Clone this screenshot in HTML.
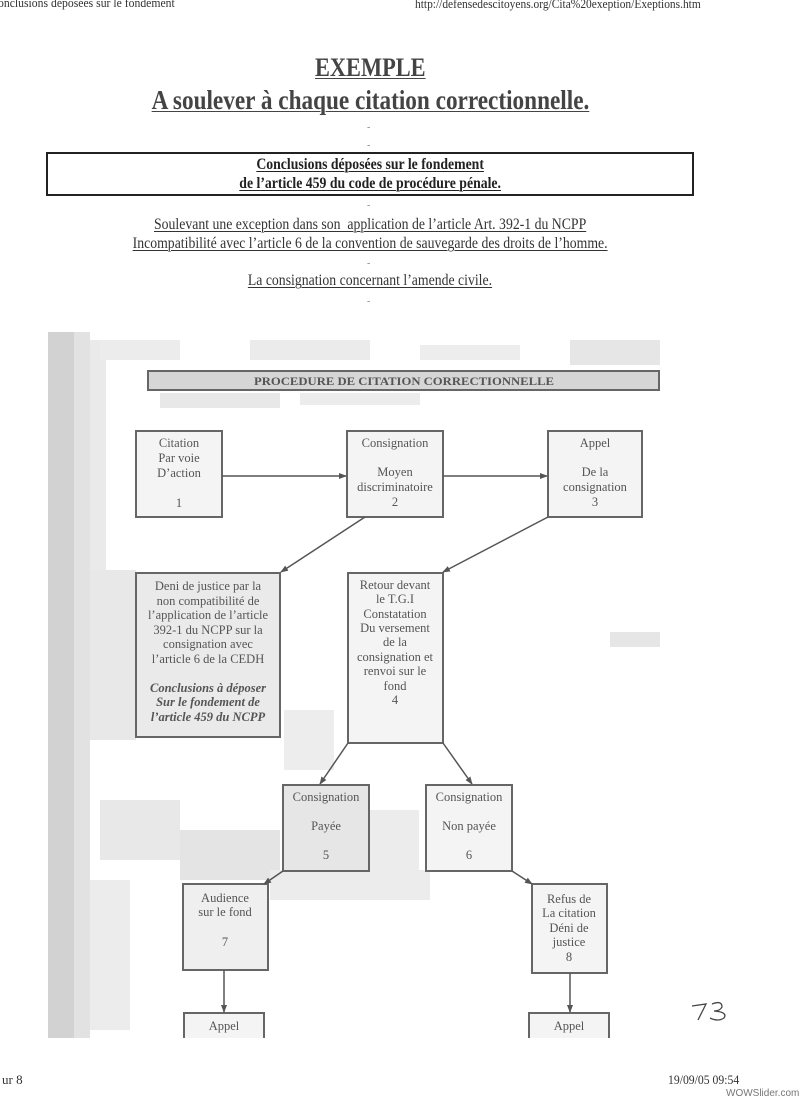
<!DOCTYPE html>
<html><head><meta charset="utf-8"><style>
html,body{margin:0;padding:0;background:#fff;}
body{width:800px;height:1100px;position:relative;overflow:hidden;font-family:"Liberation Serif",serif;color:#222;}
.a{position:absolute;white-space:nowrap;}
.c{position:absolute;left:0;width:740px;text-align:center;white-space:nowrap;}
.c span{display:inline-block;transform:scaleX(0.86);transform-origin:center;}
u{text-decoration-thickness:1px;text-underline-offset:2px;}
</style></head><body>
<div class="a" style="left:-2px;top:-5px;font-size:13px;color:#333;transform:scaleX(0.9);transform-origin:left;">onclusions déposées sur le fondement</div>
<div class="a" style="left:415px;top:-4px;font-size:13px;color:#333;transform:scaleX(0.88);transform-origin:left;">http://defensedescitoyens.org/Cita%20exeption/Exeptions.htm</div>

<div class="c" style="top:53px;font-size:26px;font-weight:bold;color:#444;"><span><u>EXEMPLE</u></span></div>
<div class="c" style="top:85px;font-size:27px;font-weight:bold;color:#444;"><span><u>A soulever à chaque citation correctionnelle.</u></span></div>
<div class="a" style="left:367px;top:122px;font-size:10px;color:#888;">-</div>
<div class="a" style="left:367px;top:140px;font-size:10px;color:#888;">-</div>
<div class="a" style="left:46px;top:152px;width:644px;height:40px;border:2px solid #222;"></div>
<div class="c" style="top:155px;font-size:16px;font-weight:bold;line-height:19px;color:#222;"><span><u>Conclusions déposées sur le fondement</u><br><u>de l’article 459 du code de procédure pénale.</u></span></div>
<div class="a" style="left:367px;top:200px;font-size:10px;color:#888;">-</div>
<div class="c" style="top:215px;font-size:16px;line-height:19px;color:#333;"><span><u>Soulevant une exception dans son&nbsp; application de l’article Art. 392-1 du NCPP</u><br><u>Incompatibilité avec l’article 6 de la convention de sauvegarde des droits de l’homme.</u></span></div>
<div class="a" style="left:367px;top:258px;font-size:10px;color:#888;">-</div>
<div class="c" style="top:272px;font-size:16px;color:#333;"><span><u>La consignation concernant l’amende civile.</u></span></div>
<div class="a" style="left:367px;top:296px;font-size:10px;color:#888;">-</div>

<svg class="a" style="left:0;top:0" width="800" height="1100" xmlns="http://www.w3.org/2000/svg">
<defs><marker id="ar" markerWidth="8" markerHeight="8" refX="7" refY="4" orient="auto" markerUnits="userSpaceOnUse"><path d="M0,1 L8,4 L0,7 z" fill="#555"/></marker></defs>
<g>
<rect x="48" y="332" width="26" height="706" fill="#d2d2d2"/>
<rect x="74" y="332" width="16" height="706" fill="#e2e2e2"/>
<rect x="90" y="340" width="16" height="400" fill="#eaeaea"/>
<rect x="100" y="340" width="80" height="20" fill="#ececec"/>
<rect x="250" y="340" width="120" height="20" fill="#ebebeb"/>
<rect x="420" y="345" width="100" height="15" fill="#ededed"/>
<rect x="570" y="340" width="90" height="25" fill="#e6e6e6"/>
<rect x="160" y="393" width="120" height="15" fill="#e8e8e8"/>
<rect x="300" y="393" width="120" height="12" fill="#ececec"/>
<rect x="90" y="570" width="46" height="170" fill="#e8e8e8"/>
<rect x="100" y="800" width="80" height="60" fill="#e8e8e8"/>
<rect x="180" y="830" width="100" height="50" fill="#e4e4e4"/>
<rect x="369" y="810" width="50" height="60" fill="#ececec"/>
<rect x="270" y="870" width="160" height="30" fill="#ececec"/>
<rect x="90" y="880" width="40" height="150" fill="#ececec"/>
<rect x="284" y="710" width="50" height="60" fill="#ededed"/>
<rect x="610" y="632" width="50" height="15" fill="#e6e6e6"/>
</g>
<g stroke="#666" stroke-width="2" fill="#f4f4f4">
<rect x="148" y="371" width="511" height="19" fill="#d6d6d6"/>
<rect x="136" y="431" width="86" height="86"/>
<rect x="347" y="431" width="96" height="86"/>
<rect x="548" y="431" width="94" height="86"/>
<rect x="136" y="573" width="144" height="164" fill="#eaeaea"/>
<rect x="348" y="573" width="95" height="170"/>
<rect x="283" y="785" width="86" height="86" fill="#e6e6e6"/>
<rect x="426" y="785" width="86" height="86"/>
<rect x="183" y="884" width="85" height="86" fill="#efefef"/>
<rect x="532" y="884" width="75" height="89"/>
<rect x="184" y="1013" width="80" height="30"/>
<rect x="529" y="1013" width="80" height="30"/>
</g>
<rect x="48" y="1038" width="620" height="30" fill="#fff"/>
<g stroke="#555" stroke-width="1.5" marker-end="url(#ar)">
<line x1="222" y1="476" x2="346" y2="476"/>
<line x1="443" y1="476" x2="547" y2="476"/>
<line x1="365" y1="517" x2="281" y2="572"/>
<line x1="548" y1="517" x2="443" y2="572"/>
<line x1="348" y1="743" x2="320" y2="784"/>
<line x1="443" y1="743" x2="472" y2="784"/>
<line x1="283" y1="871" x2="264" y2="884"/>
<line x1="512" y1="871" x2="532" y2="884"/>
<line x1="224" y1="970" x2="224" y2="1012"/>
<line x1="570" y1="973" x2="570" y2="1012"/>
</g>
<g font-family="Liberation Serif, serif" font-size="12.5" fill="#555" text-anchor="middle">
<text x="404" y="385" font-size="12" font-weight="bold" textLength="300" lengthAdjust="spacingAndGlyphs">PROCEDURE DE CITATION CORRECTIONNELLE</text>
<text x="179" y="447">Citation</text><text x="179" y="462">Par voie</text><text x="179" y="477">D’action</text><text x="179" y="507">1</text>
<text x="395" y="447">Consignation</text><text x="395" y="476">Moyen</text><text x="395" y="491">discriminatoire</text><text x="395" y="506">2</text>
<text x="595" y="447">Appel</text><text x="595" y="476">De la</text><text x="595" y="491">consignation</text><text x="595" y="506">3</text>
<text x="208" y="590">Deni de justice par la</text><text x="208" y="605">non compatibilité de</text><text x="208" y="619">l’application de l’article</text><text x="208" y="634">392-1 du NCPP sur la</text><text x="208" y="648">consignation avec</text><text x="208" y="663">l’article 6 de la CEDH</text>
<g font-style="italic" font-weight="bold"><text x="208" y="692">Conclusions à déposer</text><text x="208" y="706">Sur le fondement de</text><text x="208" y="721">l’article 459 du NCPP</text></g>
<text x="395" y="589">Retour devant</text><text x="395" y="603">le T.G.I</text><text x="395" y="618">Constatation</text><text x="395" y="632">Du versement</text><text x="395" y="646">de la</text><text x="395" y="661">consignation et</text><text x="395" y="675">renvoi sur le</text><text x="395" y="690">fond</text><text x="395" y="704">4</text>
<text x="326" y="801">Consignation</text><text x="326" y="830">Payée</text><text x="326" y="859">5</text>
<text x="469" y="801">Consignation</text><text x="469" y="830">Non payée</text><text x="469" y="859">6</text>
<text x="225" y="902">Audience</text><text x="225" y="916">sur le fond</text><text x="225" y="946">7</text>
<text x="569" y="903">Refus de</text><text x="569" y="917">La citation</text><text x="569" y="932">Déni de</text><text x="569" y="946">justice</text><text x="569" y="961">8</text>
<text x="224" y="1030">Appel</text><text x="569" y="1030">Appel</text>
</g>
<path d="M692,1006 L706,1004 L698,1020 M712,1004 Q722,1000 722,1007 Q720,1011 714,1011 Q728,1012 724,1018 Q718,1022 710,1018" stroke="#444" stroke-width="1.3" fill="none"/>
</svg>
<div class="a" style="left:2px;top:1072px;font-size:13px;color:#333;">ur 8</div>
<div class="a" style="left:668px;top:1072px;font-size:13px;color:#333;transform:scaleX(0.9);transform-origin:left;">19/09/05 09:54</div>
<div class="a" style="left:726px;top:1088px;font-size:10px;color:#777;font-family:'Liberation Sans',sans-serif;">WOWSlider.com</div>
</body></html>
